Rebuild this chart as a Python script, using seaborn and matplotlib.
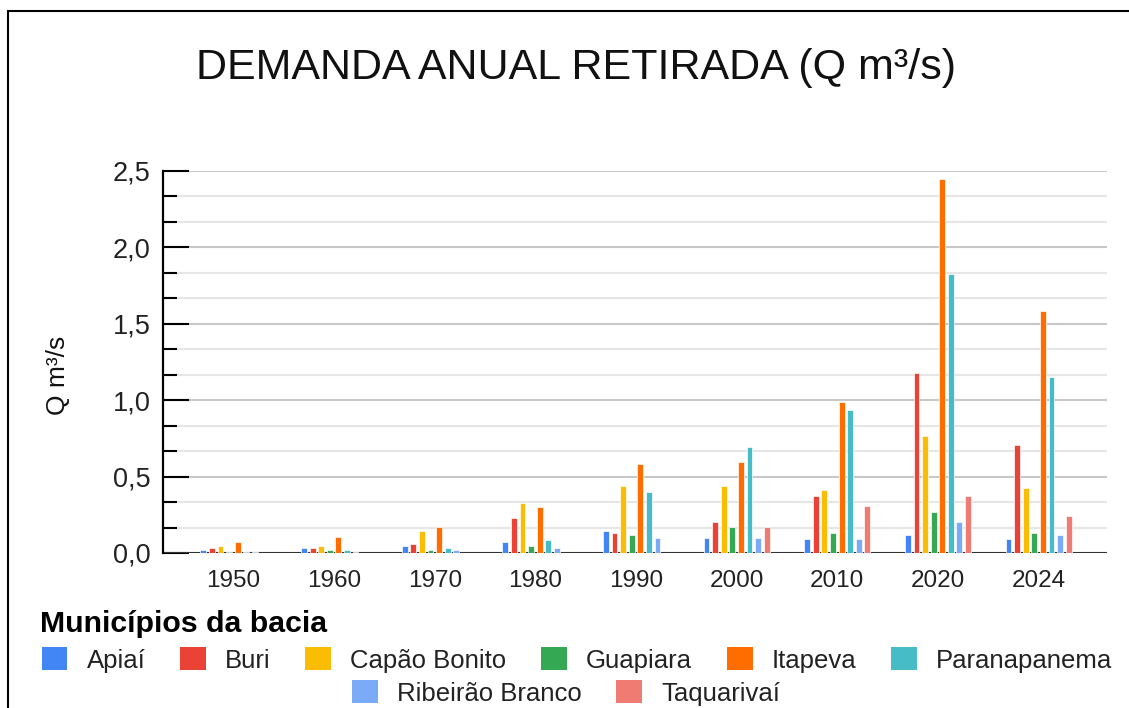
import pandas as pd
import matplotlib.pyplot as plt
import matplotlib.patches as mpatches
from matplotlib.ticker import MultipleLocator
import seaborn as sns

# ----------------------------
# Data
# ----------------------------
anos = ["1950", "1960", "1970", "1980", "1990", "2000", "2010", "2020", "2024"]
municipios = ["Apiaí", "Buri", "Capão Bonito", "Guapiara", "Itapeva",
              "Paranapanema", "Ribeirão Branco", "Taquarivaí"]

apiai = [0.018, 0.034, 0.047, 0.073, 0.145, 0.10, 0.09, 0.12, 0.09]
buri = [0.034, 0.034, 0.062, 0.23, 0.13, 0.20, 0.37, 1.177, 0.71]
capao_bonito = [0.047, 0.047, 0.147, 0.33, 0.44, 0.44, 0.41, 0.765, 0.427]
guapiara = [0.005, 0.018, 0.018, 0.045, 0.117, 0.173, 0.13, 0.27, 0.13]
itapeva = [0.075, 0.103, 0.171, 0.30, 0.584, 0.597, 0.99, 2.45, 1.585]
paranapanema = [0.005, 0.018, 0.034, 0.086, 0.40, 0.695, 0.935, 1.827, 1.149]
ribeirao_branco = [0.005, 0.005, 0.018, 0.03, 0.10, 0.10, 0.09, 0.20, 0.115]
taquarivai = [0.0, 0.0, 0.0, 0.0, 0.0, 0.173, 0.31, 0.37, 0.243]

cores = ["#4285F4", "#EA4335", "#FBBC04", "#34A853", "#FF6D01",
         "#46BDC6", "#7BAAF7", "#F07B72"]

series = [apiai, buri, capao_bonito, guapiara, itapeva,
          paranapanema, ribeirao_branco, taquarivai]

rows = []
for nome, valores in zip(municipios, series):
    for ano, v in zip(anos, valores):
        rows.append({"Ano": ano, "Município": nome, "Q": v})
df = pd.DataFrame(rows)

# ----------------------------
# Style
# ----------------------------
sns.set_style("white")
plt.rcParams["font.family"] = ["Liberation Sans", "DejaVu Sans"]

W, H = 1129, 708
fig = plt.figure(figsize=(W / 100, H / 100), dpi=100)
ax = fig.add_axes([163 / W, 1 - 553 / H, (1107 - 163) / W, (553 - 171) / H])

sns.barplot(data=df, x="Ano", y="Q", hue="Município", order=anos,
            hue_order=municipios, palette=cores, saturation=1,
            width=0.683, gap=0.32, edgecolor="white", linewidth=0.5,
            legend=False, ax=ax, zorder=3)

ax.set_xlim(-0.70, 8.68)
ax.set_ylim(0, 2.5)

# ticks and grid
ax.yaxis.set_major_locator(MultipleLocator(0.5))
ax.yaxis.set_minor_locator(MultipleLocator(0.5 / 3))
ax.set_yticklabels([f"{t:.1f}".replace(".", ",") for t in ax.get_yticks()])
ax.tick_params(axis="y", which="both", left=True)
ax.tick_params(axis="y", which="major", direction="in", length=18.7,
               width=1.5, color="black", labelsize=19.5, pad=9,
               labelcolor="#222222")
ax.tick_params(axis="y", which="minor", direction="in", length=10,
               width=1.5, color="black")
ax.tick_params(axis="x", length=0, labelsize=17.5, pad=12, colors="#222222")

ax.grid(axis="y", which="major", color="#c8c8c8", linewidth=1.5, zorder=0)
ax.grid(axis="y", which="minor", color="#e6e6e6", linewidth=1.5, zorder=0)
ax.set_axisbelow(True)
ax.axhline(0, color="#333333", linewidth=2.2, zorder=2)

for s in ["top", "right", "bottom"]:
    ax.spines[s].set_visible(False)
ax.spines["left"].set_color("black")
ax.spines["left"].set_linewidth(1.6)
ax.spines["left"].set_zorder(5)

ax.set_xlabel("")
ax.set_ylabel("")

# ----------------------------
# Texts
# ----------------------------
fig.text(576 / W, 1 - 68 / H, "DEMANDA ANUAL RETIRADA (Q m³/s)",
         ha="center", va="center", fontsize=31, color="#111111")
fig.text(58 / W, 1 - 375 / H, "Q m³/s", rotation=90, ha="center",
         va="center", fontsize=19, color="#111111")
fig.text(40 / W, 1 - 624 / H, "Municípios da bacia", ha="left",
         va="center", fontsize=21.8, fontweight="bold", color="#000000")

# ----------------------------
# Legend (two centred rows)
# ----------------------------
handles = [mpatches.Patch(facecolor=c, edgecolor="none") for c in cores]
leg_kw = dict(frameon=False, fontsize=18.5, handlelength=1.0,
              handleheight=1.0, handletextpad=0.75, columnspacing=1.35,
              borderaxespad=0, borderpad=0, labelcolor="#222222")
leg1 = fig.legend(handles[:6], municipios[:6], ncol=6, loc="center",
                  bbox_to_anchor=(577 / W, 1 - 660 / H), **leg_kw)
leg2 = fig.legend(handles[6:], municipios[6:], ncol=2, loc="center",
                  bbox_to_anchor=(566 / W, 1 - 693 / H), **leg_kw)

# outer frame (partially cut off in the reference)
frame = mpatches.Rectangle((8 / W, -0.1), 1.2, 1 + 0.1 - 11 / H,
                           transform=fig.transFigure, fill=False,
                           edgecolor="black", linewidth=1.5, clip_on=False)
fig.add_artist(frame)

fig.savefig("out.png", dpi=100)
